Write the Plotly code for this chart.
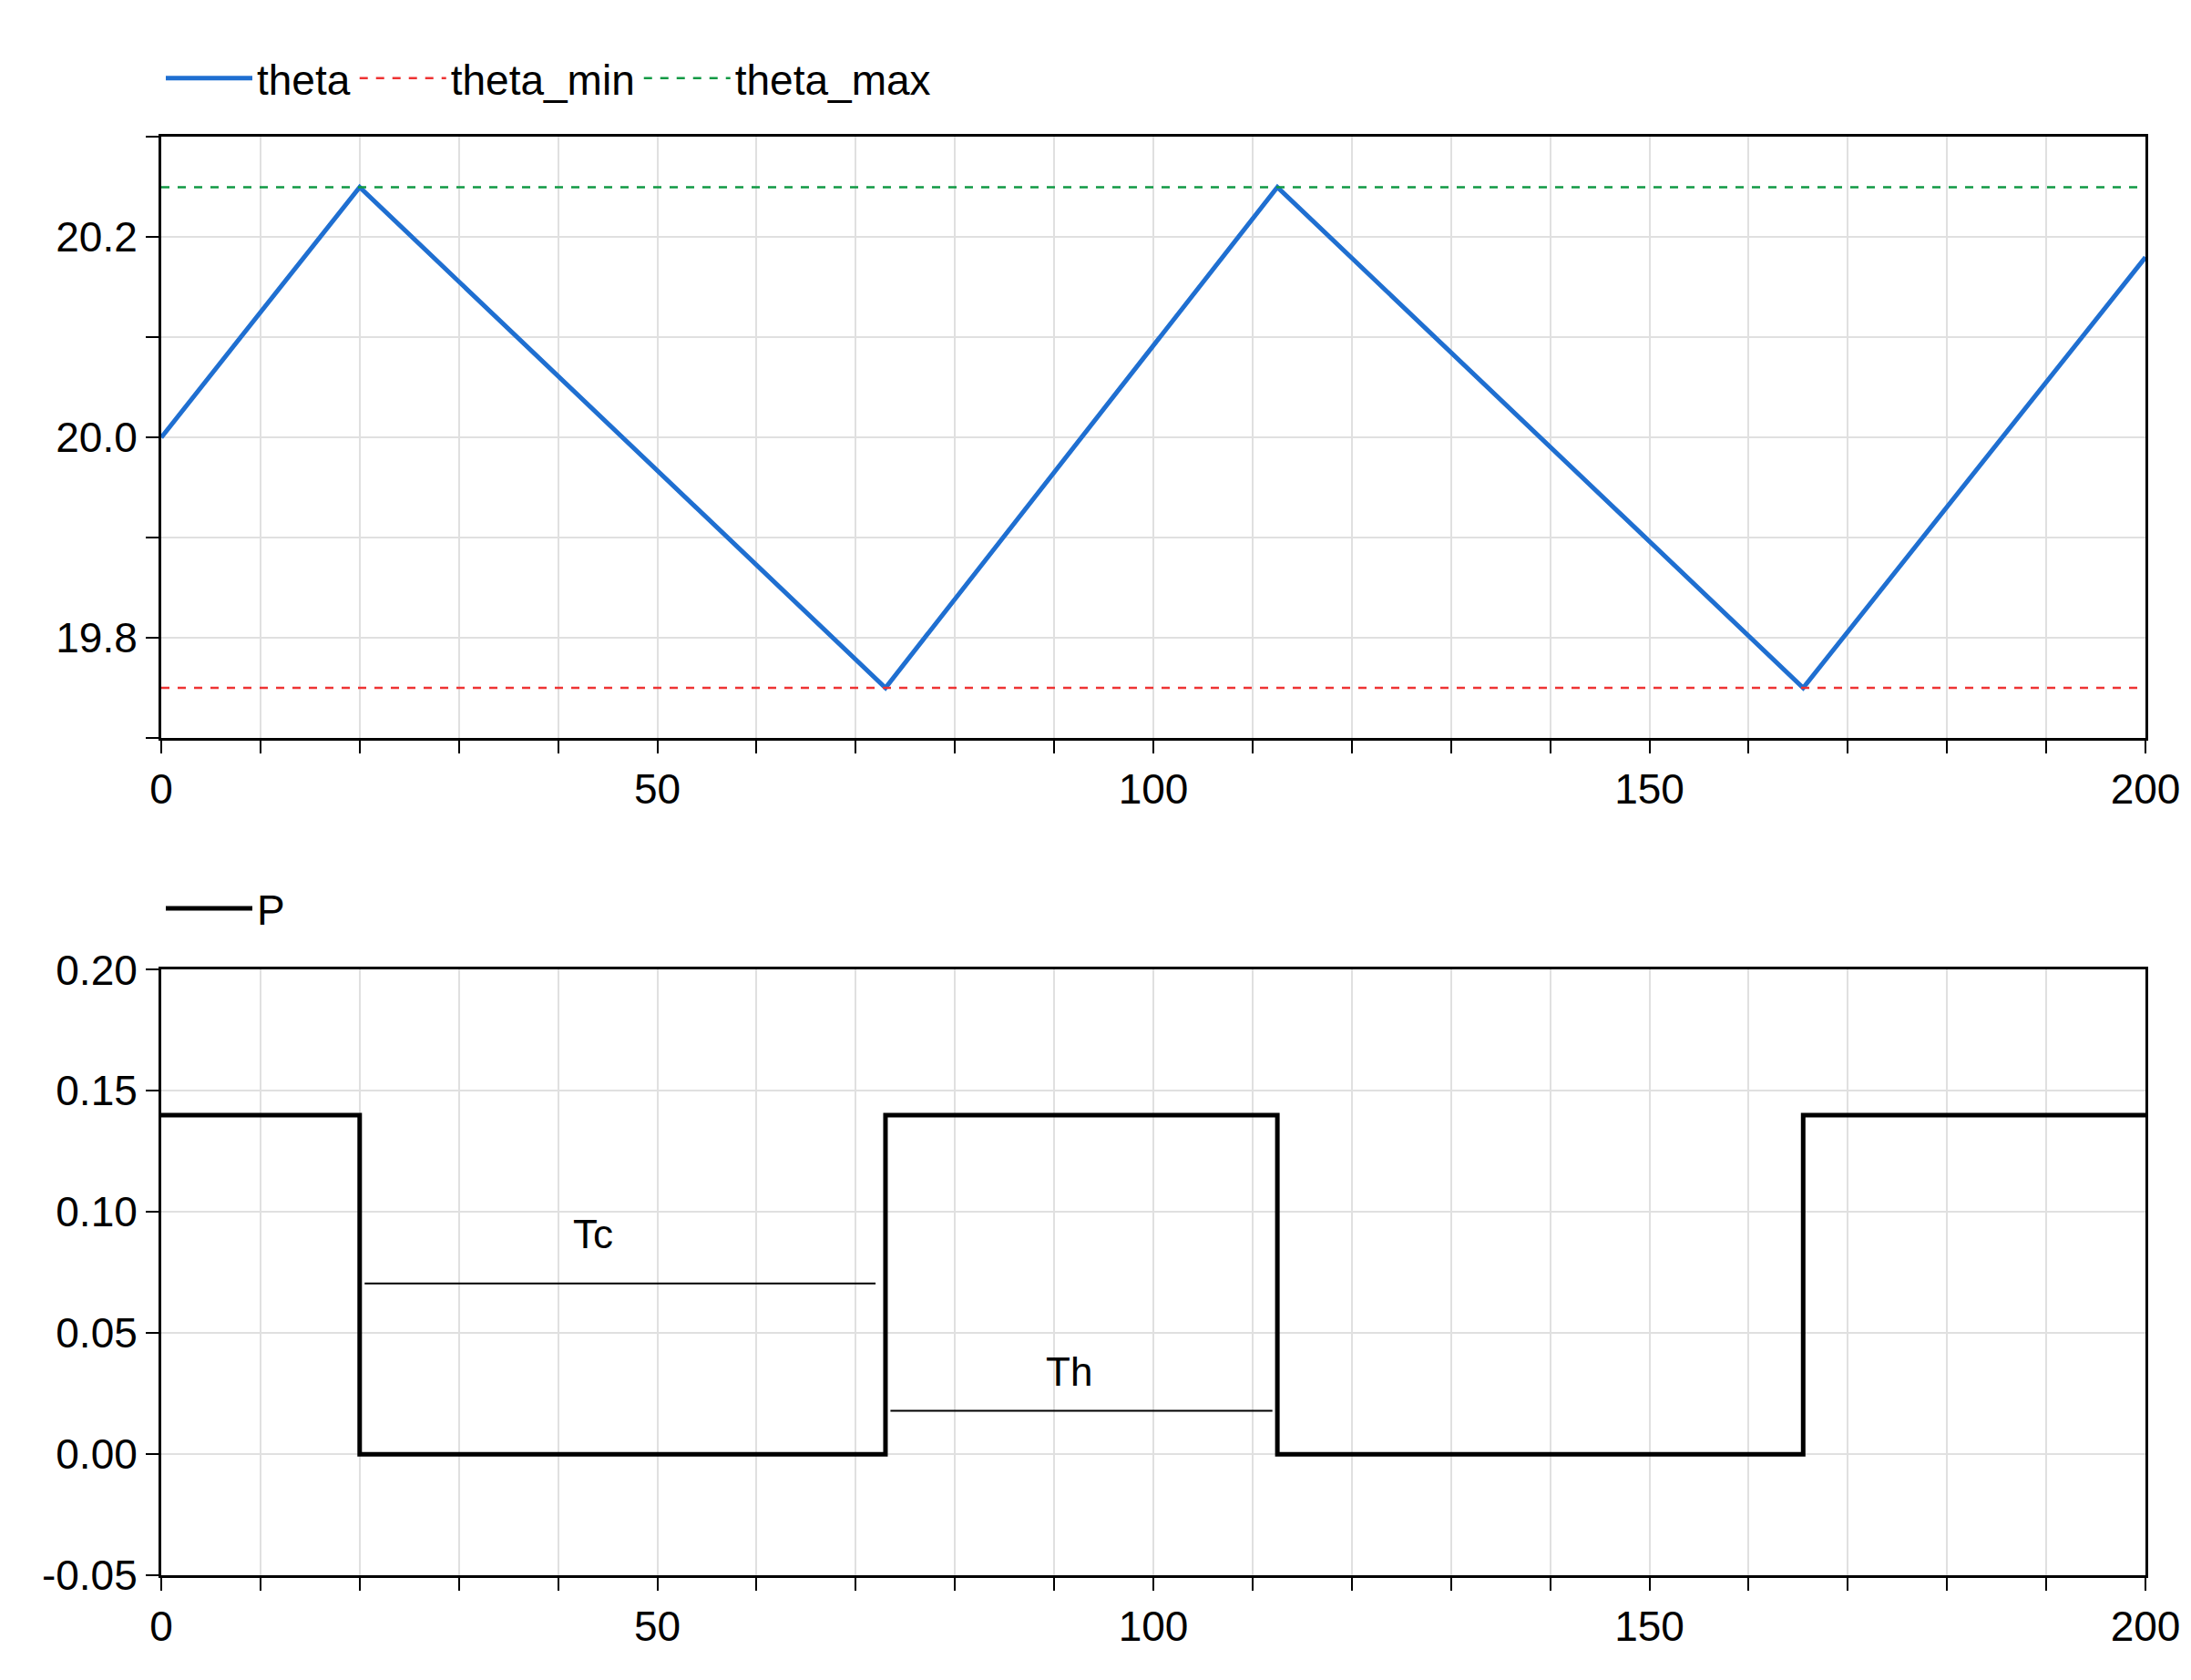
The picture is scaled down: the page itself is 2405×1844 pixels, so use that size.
import plotly.graph_objects as go
from plotly.subplots import make_subplots

theta_t = [0, 20, 73, 112.5, 165.5, 200]
theta_v = [20.0, 20.25, 19.75, 20.25, 19.75, 20.18]
theta_min = 19.75
theta_max = 20.25
p_t = [0, 20, 20, 73, 73, 112.5, 112.5, 165.5, 165.5, 200]
p_v = [0.14, 0.14, 0, 0, 0.14, 0.14, 0, 0, 0.14, 0.14]
tc_x = [20.5, 72]; tc_y = 0.0705; tc_label = "Tc"; tc_text_pos = (43.5, 0.091)
th_x = [73.5, 112]; th_y = 0.018; th_label = "Th"; th_text_pos = (91.5, 0.034)
p_ticks = [-0.05, 0.0, 0.05, 0.10, 0.15, 0.20]
p_ticklabels = ["-0.05", "0.00", "0.05", "0.10", "0.15", "0.20"]

FONT = "Liberation Sans"
fig = make_subplots(rows=2, cols=1)
fig.add_trace(go.Scatter(x=theta_t, y=theta_v, mode="lines", name="theta",
                         line=dict(color="#1f6fd1", width=5), legend="legend"), 1, 1)
fig.add_trace(go.Scatter(x=[0, 200], y=[theta_min]*2, mode="lines", name="theta_min",
                         line=dict(color="#ee3333", width=2.5, dash="dash"), legend="legend"), 1, 1)
fig.add_trace(go.Scatter(x=[0, 200], y=[theta_max]*2, mode="lines", name="theta_max",
                         line=dict(color="#119944", width=2.5, dash="dash"), legend="legend"), 1, 1)
fig.add_trace(go.Scatter(x=p_t, y=p_v, mode="lines", name="P",
                         line=dict(color="black", width=5), legend="legend2"), 2, 1)
fig.add_trace(go.Scatter(x=tc_x, y=[tc_y]*2, mode="lines", showlegend=False,
                         line=dict(color="black", width=2)), 2, 1)
fig.add_trace(go.Scatter(x=th_x, y=[th_y]*2, mode="lines", showlegend=False,
                         line=dict(color="black", width=2)), 2, 1)
for lab, (x, y) in [(tc_label, tc_text_pos), (th_label, th_text_pos)]:
    fig.add_annotation(x=x, y=y, text=lab, showarrow=False, row=2, col=1,
                       font=dict(size=44, color="black", family=FONT))

ax = dict(showline=True, linecolor="black", linewidth=3, mirror=True,
          gridcolor="#e0e0e0", gridwidth=2, zeroline=False, ticks="outside",
          tickcolor="black", tickwidth=2, ticklen=14,
          tickfont=dict(size=46, color="black", family=FONT))
fig.update_xaxes(**ax, range=[0, 200], dtick=50,
                 minor=dict(dtick=10, ticks="outside", ticklen=14, tickcolor="black",
                            showgrid=True, gridcolor="#e0e0e0", gridwidth=2))
fig.update_yaxes(**ax)
fig.update_yaxes(range=[19.7, 20.3], tickvals=[19.8, 20.0, 20.2], ticktext=["19.8", "20.0", "20.2"],
                 domain=[0.567, 0.935],
                 minor=dict(dtick=0.1, tick0=19.7, ticks="outside", ticklen=14, tickcolor="black",
                            showgrid=True, gridcolor="#e0e0e0", gridwidth=2), row=1, col=1)
fig.update_yaxes(range=[-0.05, 0.2], tickvals=p_ticks, ticktext=p_ticklabels,
                 domain=[0.054, 0.425], row=2, col=1)

fig.update_layout(
    width=2405, height=1844, plot_bgcolor="white", paper_bgcolor="white",
    margin=dict(l=169, r=58, t=0, b=0),
    legend=dict(orientation="h", x=0, xanchor="left", y=0.971, yanchor="middle",
                font=dict(size=46, color="black", family=FONT), itemwidth=95),
    legend2=dict(orientation="h", x=0, xanchor="left", y=0.4625, yanchor="middle",
                 font=dict(size=46, color="black", family=FONT), itemwidth=95),
)
fig.write_html("out.html")
